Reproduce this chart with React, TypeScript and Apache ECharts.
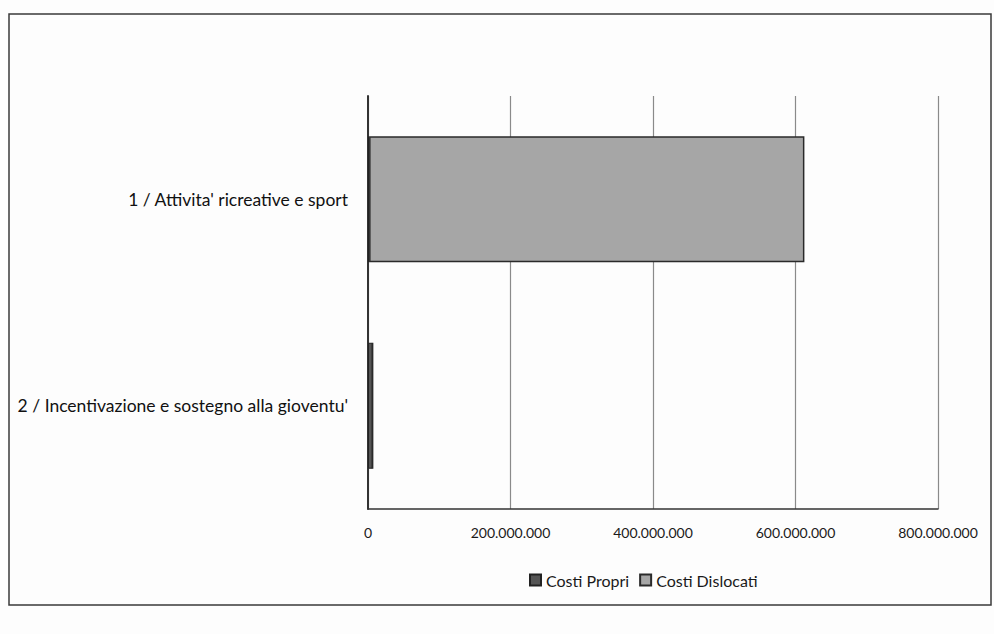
import React, { useEffect, useRef } from "react";
import * as echarts from "echarts";

const categories = [
  "1 / Attivita' ricreative e sport",
  "2 / Incentivazione e sostegno alla gioventu'",
];
const costiPropri = [1500000, 6500000];
const costiDislocati = [611000000, 0];
const seriesNames = ["Costi Propri", "Costi Dislocati"];

const fmt = (v: number) =>
  String(Math.round(v)).replace(/\B(?=(\d{3})+(?!\d))/g, ".");

export default function App() {
  const ref = useRef<HTMLDivElement>(null);
  useEffect(() => {
    if (!ref.current) return;
    const chart = echarts.init(ref.current, null, { renderer: "svg" });
    const font = "Lato, 'Liberation Sans', sans-serif";
    chart.setOption({
      animation: false,
      backgroundColor: "#fdfdfd",
      textStyle: { fontFamily: font },
      graphic: [
        {
          type: "rect",
          shape: { x: 9, y: 14, width: 982, height: 591 },
          style: { fill: "none", stroke: "#3a3a3a", lineWidth: 1.5 },
          silent: true,
        },
      ],
      grid: { left: 368, right: 56, top: 96, bottom: 125 },
      legend: {
        data: seriesNames,
        left: 524,
        top: 567,
        itemWidth: 11,
        itemHeight: 11,
        itemGap: 10,
        icon: "rect",
        textStyle: { fontSize: 16, color: "#1a1a1a", fontFamily: font },
      },
      xAxis: {
        type: "value",
        min: 0,
        max: 800000000,
        interval: 200000000,
        axisLine: { show: true, lineStyle: { color: "#333", width: 1.5 } },
        axisTick: { show: false },
        splitLine: { show: true, lineStyle: { color: "#8a8a8a", width: 1.2 } },
        axisLabel: {
          formatter: (v: number) => fmt(v),
          fontSize: 14,
          color: "#1a1a1a",
          margin: 16,
        },
      },
      yAxis: {
        type: "category",
        data: categories,
        inverse: true,
        axisLine: { show: true, lineStyle: { color: "#333", width: 2 } },
        axisTick: { show: false },
        axisLabel: { fontSize: 17.5, color: "#111", margin: 20 },
      },
      series: [
        {
          name: seriesNames[0],
          type: "bar",
          stack: "total",
          data: costiPropri,
          barWidth: "61%",
          itemStyle: { color: "#555555", borderColor: "#222", borderWidth: 1 },
        },
        {
          name: seriesNames[1],
          type: "bar",
          stack: "total",
          data: costiDislocati,
          barWidth: "61%",
          itemStyle: { color: "#a6a6a6", borderColor: "#2a2a2a", borderWidth: 1.5 },
        },
      ],
    });
    return () => chart.dispose();
  }, []);
  return (
    <div
      ref={ref}
      style={{ position: "fixed", left: 0, top: 0, width: 994, height: 634 }}
    />
  );
}
